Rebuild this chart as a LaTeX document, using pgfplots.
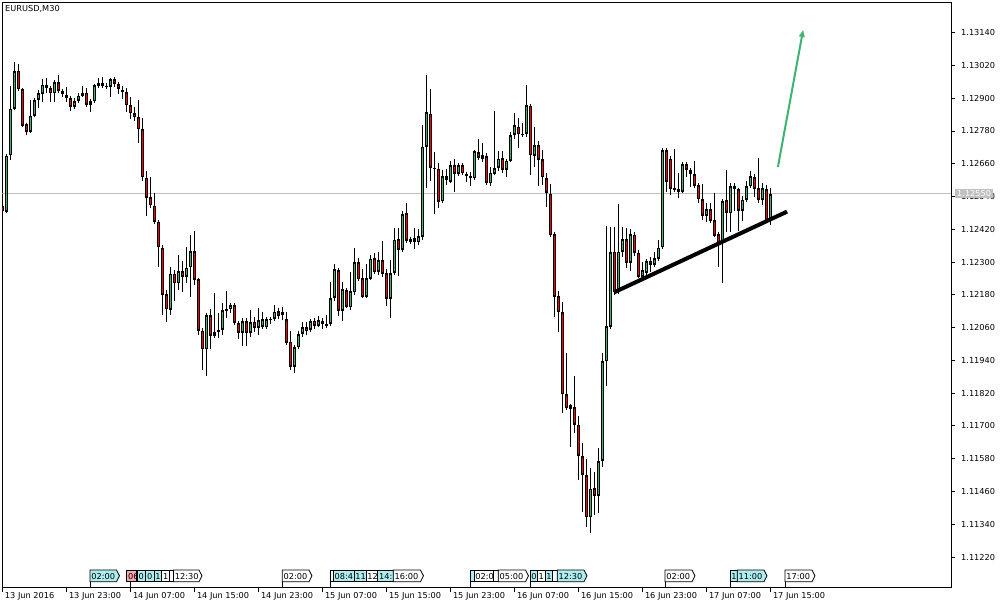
\documentclass[border=0pt]{standalone}
\usepackage{fontspec}
\setmainfont{DejaVu Sans}
\usepackage{pgfplots}
\pgfplotsset{compat=1.18}
\usepackage{pgfplotstable}
\usetikzlibrary{arrows.meta}
\definecolor{cgreen}{RGB}{60,179,113}
\definecolor{cred}{RGB}{255,0,0}
\definecolor{tagblue}{RGB}{175,236,240}
\definecolor{tagpink}{RGB}{248,168,178}
\definecolor{pgray}{RGB}{192,192,192}
\newcommand\sfont{\fontsize{8.2bp}{9.8bp}\selectfont}

\pgfplotstableread{
x o h l c
0 1.12506 1.12517 1.12480 1.12487
1 1.12485 1.12692 1.12479 1.12690
2 1.12692 1.12943 1.12674 1.12863
3 1.12863 1.13032 1.12860 1.13000
4 1.13002 1.13025 1.12930 1.12933
5 1.12933 1.12936 1.12797 1.12800
6 1.12805 1.12808 1.12766 1.12778
7 1.12778 1.12894 1.12775 1.12836
8 1.12836 1.12900 1.12833 1.12894
9 1.12894 1.12930 1.12866 1.12918
10 1.12918 1.12971 1.12888 1.12951
11 1.12949 1.12975 1.12918 1.12937
12 1.12937 1.12945 1.12888 1.12918
13 1.12918 1.12967 1.12888 1.12959
14 1.12959 1.12985 1.12925 1.12927
15 1.12927 1.12930 1.12906 1.12915
16 1.12915 1.12940 1.12888 1.12902
17 1.12902 1.12908 1.12854 1.12869
18 1.12869 1.12900 1.12863 1.12890
19 1.12890 1.12918 1.12883 1.12910
20 1.12910 1.12945 1.12904 1.12921
21 1.12921 1.12937 1.12869 1.12876
22 1.12876 1.12894 1.12849 1.12890
23 1.12890 1.12952 1.12888 1.12949
24 1.12946 1.12975 1.12940 1.12955
25 1.12955 1.12979 1.12940 1.12945
26 1.12945 1.12957 1.12933 1.12944
27 1.12943 1.12973 1.12904 1.12970
28 1.12970 1.12973 1.12940 1.12952
29 1.12952 1.12961 1.12916 1.12933
30 1.12933 1.12945 1.12896 1.12923
31 1.12923 1.12937 1.12851 1.12874
32 1.12874 1.12904 1.12823 1.12845
33 1.12845 1.12869 1.12818 1.12830
34 1.12830 1.12894 1.12735 1.12787
35 1.12787 1.12827 1.12598 1.12611
36 1.12611 1.12635 1.12470 1.12538
37 1.12538 1.12611 1.12497 1.12508
38 1.12508 1.12554 1.12445 1.12448
39 1.12448 1.12452 1.12283 1.12354
40 1.12354 1.12363 1.12107 1.12182
41 1.12182 1.12198 1.12082 1.12127
42 1.12127 1.12283 1.12107 1.12259
43 1.12259 1.12271 1.12159 1.12223
44 1.12223 1.12326 1.12198 1.12268
45 1.12268 1.12305 1.12192 1.12247
46 1.12247 1.12357 1.12223 1.12281
47 1.12281 1.12399 1.12174 1.12341
48 1.12341 1.12415 1.12216 1.12237
49 1.12237 1.12242 1.12033 1.12049
50 1.12049 1.12059 1.11905 1.11981
51 1.11981 1.12115 1.11883 1.12107
52 1.12107 1.12127 1.11981 1.12031
53 1.12031 1.12186 1.12026 1.12044
54 1.12044 1.12113 1.12021 1.12052
55 1.12052 1.12149 1.12033 1.12125
56 1.12125 1.12196 1.12094 1.12128
57 1.12128 1.12149 1.12113 1.12143
58 1.12143 1.12149 1.12074 1.12078
59 1.12078 1.12085 1.12019 1.12042
60 1.12042 1.12094 1.11993 1.12085
61 1.12085 1.12094 1.11993 1.12042
62 1.12042 1.12125 1.12027 1.12082
63 1.12082 1.12100 1.12045 1.12061
64 1.12061 1.12131 1.12033 1.12088
65 1.12064 1.12119 1.12058 1.12093
66 1.12061 1.12094 1.12058 1.12091
67 1.12091 1.12100 1.12074 1.12092
68 1.12091 1.12143 1.12088 1.12119
69 1.12122 1.12131 1.12091 1.12105
70 1.12107 1.12135 1.12088 1.12119
71 1.12091 1.12119 1.12000 1.12005
72 1.12009 1.12049 1.11905 1.11917
73 1.11917 1.11993 1.11893 1.11990
74 1.11988 1.12049 1.11985 1.12037
75 1.12037 1.12081 1.12026 1.12063
76 1.12063 1.12081 1.12033 1.12048
77 1.12052 1.12091 1.12049 1.12085
78 1.12086 1.12094 1.12054 1.12066
79 1.12068 1.12103 1.12066 1.12088
80 1.12086 1.12094 1.12054 1.12074
81 1.12066 1.12107 1.12059 1.12074
82 1.12074 1.12228 1.12066 1.12168
83 1.12168 1.12293 1.12159 1.12274
84 1.12271 1.12274 1.12103 1.12122
85 1.12122 1.12228 1.12086 1.12201
86 1.12198 1.12204 1.12135 1.12137
87 1.12135 1.12265 1.12125 1.12194
88 1.12190 1.12351 1.12180 1.12300
89 1.12300 1.12314 1.12235 1.12237
90 1.12240 1.12274 1.12170 1.12174
91 1.12174 1.12292 1.12170 1.12241
92 1.12240 1.12326 1.12235 1.12314
93 1.12314 1.12335 1.12257 1.12263
94 1.12265 1.12338 1.12253 1.12308
95 1.12307 1.12378 1.12245 1.12257
96 1.12261 1.12274 1.12139 1.12168
97 1.12168 1.12308 1.12094 1.12261
98 1.12261 1.12424 1.12258 1.12384
99 1.12384 1.12424 1.12249 1.12345
100 1.12345 1.12487 1.12342 1.12475
101 1.12479 1.12516 1.12369 1.12378
102 1.12373 1.12393 1.12370 1.12385
103 1.12387 1.12426 1.12348 1.12373
104 1.12373 1.12421 1.12363 1.12396
105 1.12393 1.12802 1.12381 1.12723
106 1.12723 1.12985 1.12573 1.12849
107 1.12845 1.12934 1.12597 1.12646
108 1.12646 1.12702 1.12475 1.12643
109 1.12643 1.12662 1.12497 1.12521
110 1.12523 1.12638 1.12519 1.12616
111 1.12616 1.12641 1.12583 1.12601
112 1.12595 1.12670 1.12589 1.12656
113 1.12656 1.12677 1.12558 1.12622
114 1.12624 1.12662 1.12619 1.12656
115 1.12656 1.12659 1.12619 1.12625
116 1.12625 1.12631 1.12595 1.12617
117 1.12617 1.12629 1.12580 1.12609
118 1.12607 1.12707 1.12601 1.12705
119 1.12702 1.12751 1.12674 1.12683
120 1.12680 1.12735 1.12668 1.12692
121 1.12689 1.12699 1.12583 1.12589
122 1.12589 1.12650 1.12580 1.12629
123 1.12625 1.12854 1.12623 1.12646
124 1.12646 1.12705 1.12635 1.12680
125 1.12680 1.12705 1.12625 1.12638
126 1.12638 1.12674 1.12613 1.12672
127 1.12672 1.12778 1.12668 1.12766
128 1.12766 1.12845 1.12750 1.12802
129 1.12797 1.12829 1.12717 1.12769
130 1.12769 1.12809 1.12759 1.12770
131 1.12770 1.12949 1.12759 1.12876
132 1.12874 1.12878 1.12619 1.12692
133 1.12689 1.12796 1.12647 1.12729
134 1.12729 1.12745 1.12579 1.12674
135 1.12677 1.12711 1.12583 1.12611
136 1.12607 1.12625 1.12503 1.12552
137 1.12552 1.12586 1.12396 1.12399
138 1.12403 1.12412 1.12098 1.12174
139 1.12176 1.12194 1.12045 1.12116
140 1.12116 1.12155 1.11747 1.11816
141 1.11816 1.11968 1.11762 1.11765
142 1.11763 1.11778 1.11624 1.11776
143 1.11771 1.11883 1.11676 1.11706
144 1.11706 1.11737 1.11502 1.11591
145 1.11590 1.11637 1.11386 1.11521
146 1.11521 1.11578 1.11331 1.11366
147 1.11366 1.11545 1.11307 1.11472
148 1.11472 1.11533 1.11374 1.11444
149 1.11444 1.11618 1.11380 1.11572
150 1.11572 1.11968 1.11551 1.11938
151 1.11938 1.12432 1.11847 1.12066
152 1.12063 1.12428 1.12054 1.12338
153 1.12338 1.12428 1.12180 1.12192
154 1.12192 1.12513 1.12185 1.12338
155 1.12338 1.12428 1.12320 1.12384
156 1.12384 1.12424 1.12278 1.12296
157 1.12296 1.12420 1.12269 1.12402
158 1.12402 1.12412 1.12323 1.12335
159 1.12335 1.12345 1.12241 1.12247
160 1.12247 1.12301 1.12231 1.12271
161 1.12260 1.12310 1.12249 1.12305
162 1.12305 1.12318 1.12265 1.12290
163 1.12290 1.12338 1.12282 1.12314
164 1.12312 1.12381 1.12308 1.12354
165 1.12354 1.12716 1.12348 1.12711
166 1.12711 1.12717 1.12558 1.12595
167 1.12680 1.12689 1.12546 1.12570
168 1.12564 1.12713 1.12557 1.12572
169 1.12570 1.12625 1.12534 1.12558
170 1.12558 1.12664 1.12555 1.12659
171 1.12659 1.12662 1.12613 1.12638
172 1.12638 1.12645 1.12576 1.12623
173 1.12623 1.12672 1.12578 1.12580
174 1.12583 1.12590 1.12516 1.12530
175 1.12530 1.12586 1.12454 1.12470
176 1.12470 1.12518 1.12446 1.12495
177 1.12495 1.12516 1.12445 1.12452
178 1.12454 1.12554 1.12395 1.12397
179 1.12402 1.12412 1.12283 1.12373
180 1.12373 1.12528 1.12223 1.12524
181 1.12527 1.12638 1.12412 1.12481
182 1.12479 1.12589 1.12412 1.12579
183 1.12579 1.12591 1.12488 1.12567
184 1.12567 1.12570 1.12415 1.12488
185 1.12488 1.12542 1.12452 1.12530
186 1.12528 1.12598 1.12525 1.12580
187 1.12579 1.12635 1.12576 1.12616
188 1.12613 1.12623 1.12540 1.12570
189 1.12570 1.12683 1.12518 1.12528
190 1.12528 1.12589 1.12509 1.12570
191 1.12570 1.12583 1.12448 1.12454
192 1.12454 1.12570 1.12434 1.12550
}\ohlc

\newcommand\tg[5]{%
  \ifnum#5=1
    \filldraw[fill=#4,draw=black,line width=0.8bp] (#1,27.3) -- (#1,39) -- (#2,39) -- ({#2+3},33.15) -- (#2,27.3) -- cycle;
  \else
    \filldraw[fill=#4,draw=black,line width=0.8bp] (#1,27.3) rectangle (#2,39);
  \fi
  \node[anchor=base west,inner sep=0pt,font=\sfont] at ({#1+1.2},30) {#3};}

\begin{document}
\begin{tikzpicture}
\useasboundingbox (0,0) rectangle (1005bp,609bp);
\begin{axis}[
  at={(2.3bp,21bp)}, anchor=south west,
  width=948.7bp, height=585.3bp, scale only axis,
  xmin=0, xmax=237.175, ymin=1.111067, ymax=1.1324985,
  axis line style={black, line width=1bp},
  tick style={black, line width=1bp},
  major tick length=4bp,
  tick align=outside,
  xtick pos=left, ytick pos=right, yticklabel pos=right,
  xtick={0,16,...,192},
  xticklabels={13 Jun 2016,13 Jun 23:00,14 Jun 07:00,14 Jun 15:00,14 Jun 23:00,15 Jun 07:00,15 Jun 15:00,15 Jun 23:00,16 Jun 07:00,16 Jun 15:00,16 Jun 23:00,17 Jun 07:00,17 Jun 15:00},
  ytick={1.11220,1.11340,1.11460,1.11580,1.11700,1.11820,1.11940,1.12060,1.12180,1.12300,1.12420,1.12540,1.12660,1.12780,1.12900,1.13020,1.13140},
  yticklabels={1.11220,1.11340,1.11460,1.11580,1.11700,1.11820,1.11940,1.12060,1.12180,1.12300,1.12420,1.12540,1.12660,1.12780,1.12900,1.13020,1.13140},
  tick label style={font=\sfont},
  xticklabel style={anchor=north west, inner sep=0pt, xshift=2.5bp},
  yticklabel style={anchor=west, inner sep=0pt, xshift=6bp},
  clip=true,
]
% current price line
\addplot[pgray, line width=1bp, forget plot] coordinates {(0,1.12550) (237.175,1.12550)};
% wicks
\addplot[draw=none, mark=none, forget plot,
  error bars/.cd, y dir=minus, y explicit,
  error bar style={draw=black, line width=1bp}, error mark=none]
  table[x=x, y=h, y error minus expr=\thisrow{h}-\thisrow{l}] {\ohlc};
% body outlines
\addplot[draw=none, mark=none, forget plot,
  error bars/.cd, y dir=both, y explicit,
  error bar style={draw=black, line width=3.4bp}, error mark=none]
  table[x=x, y expr=(\thisrow{o}+\thisrow{c})/2, y error expr=abs(\thisrow{c}-\thisrow{o})/2] {\ohlc};
% bullish fill
\addplot[draw=none, mark=none, forget plot,
  restrict expr to domain={(\thisrow{c}-\thisrow{o})*100000}{0:100000},
  error bars/.cd, y dir=both, y explicit,
  error bar style={draw=cgreen, line width=1.5bp},
  error mark=-, error mark options={draw=black, line width=0.9bp, mark size=1.7bp}]
  table[x=x, y expr=(\thisrow{o}+\thisrow{c})/2, y error expr=abs(\thisrow{c}-\thisrow{o})/2] {\ohlc};
% bearish fill
\addplot[draw=none, mark=none, forget plot,
  restrict expr to domain={(\thisrow{o}-\thisrow{c})*100000}{0.5:100000},
  error bars/.cd, y dir=both, y explicit,
  error bar style={draw=cred, line width=1.5bp},
  error mark=-, error mark options={draw=black, line width=0.9bp, mark size=1.7bp}]
  table[x=x, y expr=(\thisrow{o}+\thisrow{c})/2, y error expr=abs(\thisrow{c}-\thisrow{o})/2] {\ohlc};
% trend line
\addplot[black, line width=4bp, forget plot] coordinates {(152.9,1.12189) (196.2,1.12485)};
% arrow
\addplot[cgreen, line width=2bp, forget plot, -{Triangle[length=7bp,width=5.5bp]}] coordinates {(193.9,1.12648) (200.2,1.13150)};
\end{axis}
\begin{scope}[x=1bp,y=1bp]
\node[anchor=base west, inner sep=0pt, font=\sfont] at (5,597) {EURUSD,M30};
% current price label
\fill[pgray] (955,410.7) rectangle (993.3,420);
\node[anchor=west, inner sep=0pt, font=\sfont, text=white] at (957,415.4) {1.12550};
% event flags
\foreach \p in {90,130,282.3,330.7,470,530,665,730,785} \draw[black, line width=0.8bp] (\p,21) -- (\p,27.3);
\tg{90}{116.5}{02:00}{tagblue}{1}
\tg{126.7}{136.7}{06}{tagpink}{0}
\tg{137.3}{145.7}{0}{tagblue}{0}
\tg{145.7}{154}{0}{tagblue}{0}
\tg{154}{161.7}{1}{tagblue}{0}
\tg{161.7}{169.3}{1}{white}{0}
\tg{169.3}{173.5}{}{white}{0}
\tg{173.5}{199}{12:30}{white}{1}
\tg{282.3}{309}{02:00}{white}{1}
\tg{330.7}{333.3}{}{white}{0}
\tg{333.3}{354}{08:4}{tagblue}{0}
\tg{354}{366}{11}{tagblue}{0}
\tg{366}{377.7}{12}{white}{0}
\tg{377.7}{393.3}{14:}{tagblue}{0}
\tg{393.3}{420.5}{16:00}{white}{1}
\tg{470}{474}{}{tagblue}{0}
\tg{474}{493.3}{02:0}{white}{0}
\tg{493.3}{498.3}{}{white}{0}
\tg{498.3}{525.5}{05:00}{white}{1}
\tg{530}{537.3}{0}{tagblue}{0}
\tg{537.3}{545}{1}{white}{0}
\tg{545}{552.7}{1}{tagblue}{0}
\tg{552.7}{557.3}{}{white}{0}
\tg{557.3}{584}{12:30}{tagblue}{1}
\tg{665}{692}{02:00}{white}{1}
\tg{730}{737.3}{1}{tagblue}{0}
\tg{737.3}{764}{11:00}{tagblue}{1}
\tg{785}{812}{17:00}{white}{1}
\end{scope}
\end{tikzpicture}
\end{document}
